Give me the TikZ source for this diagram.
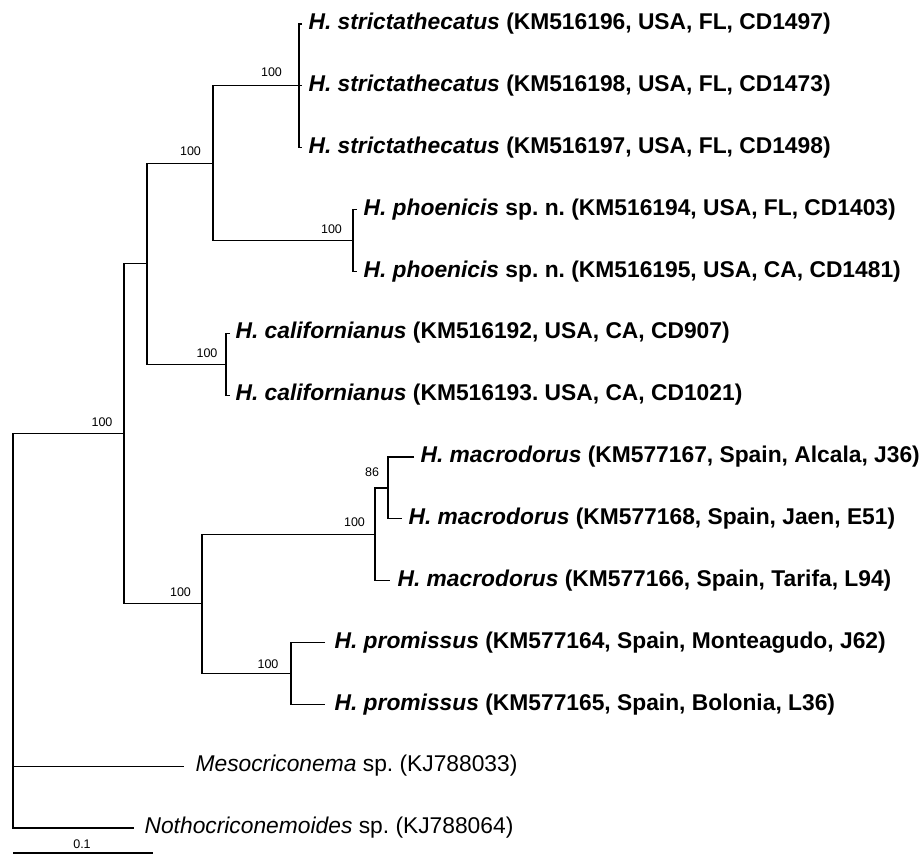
\documentclass[tikz,border=0pt]{standalone}
\usepackage{fontspec}
\setmainfont{Liberation Sans}
\frenchspacing
\begin{document}
\begin{tikzpicture}[x=1pt,y=-1pt,line width=1.2pt,
  taxB/.style={anchor=base west,inner sep=0pt,font=\fontsize{22.8}{26}\selectfont\bfseries},
  taxR/.style={anchor=base west,inner sep=0pt,font=\fontsize{22.8}{26}\selectfont},
  bootlbl/.style={inner sep=0pt,font=\fontsize{12.5}{14}\selectfont}]
\useasboundingbox (0,0) rectangle (924,855);
% tip labels
\node[taxB] (s1) at (308,29.7) {\textit{H. strictathecatus} (KM516196, USA, FL, CD1497)};
\node[taxB] (s2) at (308,91.5) {\textit{H. strictathecatus} (KM516198, USA, FL, CD1473)};
\node[taxB] (s3) at (308,153.4) {\textit{H. strictathecatus} (KM516197, USA, FL, CD1498)};
\node[taxB] (s4) at (363,215.3) {\textit{H. phoenicis} sp. n. (KM516194, USA, FL, CD1403)};
\node[taxB] (s5) at (363,277.1) {\textit{H. phoenicis} sp. n. (KM516195, USA, CA, CD1481)};
\node[taxB] (s6) at (235,338.9) {\textit{H. californianus} (KM516192, USA, CA, CD907)};
\node[taxB] (s7) at (235,400.8) {\textit{H. californianus} (KM516193. USA, CA, CD1021)};
\node[taxB] (s8) at (420,462.7) {\textit{H. macrodorus} (KM577167, Spain, Alcala, J36)};
\node[taxB] (s9) at (408,524.5) {\textit{H. macrodorus} (KM577168, Spain, Jaen, E51)};
\node[taxB] (s10) at (397,586.3) {\textit{H. macrodorus} (KM577166, Spain, Tarifa, L94)};
\node[taxB] (s11) at (334,648.2) {\textit{H. promissus} (KM577164, Spain, Monteagudo, J62)};
\node[taxB] (s12) at (334,710.1) {\textit{H. promissus} (KM577165, Spain, Bolonia, L36)};
\node[taxR] (s13) at (195,771.9) {\textit{Mesocriconema} sp. (KJ788033)};
\node[taxR] (s14) at (144,833.7) {\textit{Nothocriconemoides} sp. (KJ788064)};
% tip ends
\coordinate (t1) at (302,24);
\coordinate (t2) at (302,85.8);
\coordinate (t3) at (302,147.7);
\coordinate (t4) at (357,209.6);
\coordinate (t5) at (357,271.4);
\coordinate (t6) at (230,333.2);
\coordinate (t7) at (230,395.1);
\coordinate (t8) at (414,457);
\coordinate (t9) at (402,518.8);
\coordinate (t10) at (390,580.6);
\coordinate (t11) at (325,642.5);
\coordinate (t12) at (325,704.4);
\coordinate (t13) at (184,766.2);
\coordinate (t14) at (134,828);
% internal nodes
\coordinate (nS) at (299,85.8);
\coordinate (nP) at (353,240.5);
\coordinate (nSP) at (213,163.2);
\coordinate (nC) at (226,364.2);
\coordinate (nU) at (147,263.7);
\coordinate (n86) at (388,487.9);
\coordinate (nM) at (375,534.2);
\coordinate (nPr) at (291,673.4);
\coordinate (nL) at (202,603.8);
\coordinate (nI) at (124,433.7);
\coordinate (root) at (13,433.7);
% branches
\draw (t1) -| (nS) |- (t3);
\draw (nS) -- (t2);
\draw (t4) -| (nP) |- (t5);
\draw (nS) -| (nSP) |- (nP);
\draw (t6) -| (nC) |- (t7);
\draw (nSP) -| (nU) |- (nC);
\draw (t8) -| (n86) |- (t9);
\draw (n86) -| (nM) |- (t10);
\draw (t11) -| (nPr) |- (t12);
\draw (nM) -| (nL) |- (nPr);
\draw (nU) -| (nI) |- (nL);
\draw (nI) -- (root) |- (t14);
\draw (root |- t13) -- (t13);
% support values
\node[bootlbl] (b1) at (271.5,72) {100};
\node[bootlbl] (b2) at (190.5,151) {100};
\node[bootlbl] (b3) at (331.5,229) {100};
\node[bootlbl] (b4) at (207,353) {100};
\node[bootlbl] (b5) at (102,422) {100};
\node[bootlbl] (b6) at (372,472) {86};
\node[bootlbl] (b7) at (354.5,522) {100};
\node[bootlbl] (b8) at (180.5,592) {100};
\node[bootlbl] (b9) at (268,664) {100};
% scale bar
\coordinate (sb1) at (13,853);
\coordinate (sb2) at (153,853);
\draw (sb1) -- (sb2);
\node[bootlbl] (sbl) at (82,844) {0.1};
\end{tikzpicture}
\end{document}
